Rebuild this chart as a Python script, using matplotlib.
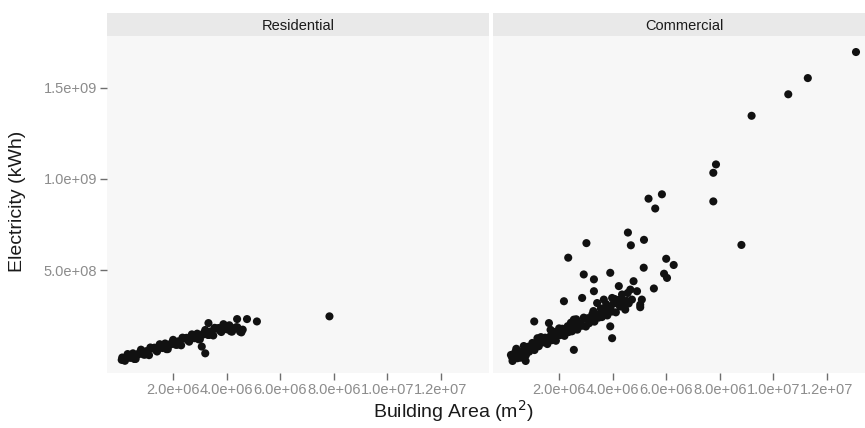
import numpy as np
import matplotlib
matplotlib.use('Agg')
import matplotlib.pyplot as plt
from matplotlib.ticker import FuncFormatter

plt.rcParams['font.family'] = ['Liberation Sans', 'DejaVu Sans']

# 面积单位: 1e6 m^2, 电量单位: 1e8 kWh
res_area = [0.1, 0.2, 0.3, 0.4, 0.5, 0.6, 0.7, 0.8, 0.9, 1.0,
            1.1, 1.2, 1.3, 1.4, 1.5, 1.6, 1.7, 1.8, 1.9, 2.0,
            2.1, 2.2, 2.3, 2.4, 2.5, 2.6, 2.7, 2.8, 2.9, 3.0,
            3.1, 3.2, 3.3, 3.4, 3.5, 3.6, 3.7, 3.8, 3.9, 4.0,
            4.1, 4.2, 4.3, 4.4, 4.5, 4.6,
            0.15, 0.35, 0.55, 0.75, 0.95, 1.15, 1.35, 1.55, 1.75, 1.95,
            2.15, 2.35, 2.55, 2.75, 2.95, 3.15, 3.35, 3.55, 3.75, 3.95,
            4.15, 4.35, 4.55,
            4.39, 4.76, 5.13, 3.32, 3.20, 3.07, 7.84, 0.08, 3.88]
res_elec = [0.20, 0.02, 0.39, 0.18, 0.43, 0.12, 0.37, 0.63, 0.36, 0.55,
            0.33, 0.71, 0.74, 0.53, 0.93, 0.72, 0.97, 0.66, 0.91, 1.17,
            0.90, 1.09, 0.87, 1.25, 1.28, 1.07, 1.47, 1.26, 1.51, 1.20,
            1.45, 1.71, 1.44, 1.63, 1.41, 1.79, 1.82, 1.60, 1.98, 1.75,
            1.97, 1.62, 1.80, 1.86, 1.62, 1.73,
            0.07, 0.33, 0.12, 0.47, 0.36, 0.75, 0.61, 0.87, 0.66, 1.01,
            0.90, 1.29, 1.15, 1.41, 1.20, 1.55, 1.44, 1.83, 1.68, 1.91,
            1.64, 1.86, 1.58,
            2.31, 2.31, 2.18, 2.09, 0.43, 0.80, 2.46, 0.07, 2.03]

com_area = [0.20, 0.28, 0.36, 0.44, 0.52, 0.60, 0.68, 0.76, 0.84, 0.92,
            1.00, 1.08, 1.16, 1.24, 1.32, 1.40, 1.48, 1.56, 1.64, 1.72,
            1.80, 1.88, 1.96, 2.04, 2.12, 2.20, 2.28, 2.36, 2.44, 2.52,
            2.60, 2.68, 2.76, 2.84, 2.92, 3.00, 3.08, 3.16, 3.24, 3.32,
            3.40, 3.48, 3.56, 3.64, 3.72, 3.80, 3.88, 3.96, 4.04, 4.12,
            4.20, 4.28, 4.36, 4.44, 4.52, 4.60,
            0.24, 0.40, 0.56, 0.72, 0.88, 1.04, 1.20, 1.36, 1.52, 1.68,
            1.84, 2.00, 2.16, 2.32, 2.48, 2.64, 2.80, 2.96, 3.12, 3.28,
            3.44, 3.60, 3.76, 3.92, 4.08, 4.24, 4.40, 4.56,
            1.07, 1.19, 1.62, 1.68, 2.18, 2.55, 2.55, 2.86, 2.92, 3.30,
            3.30, 3.42, 3.67, 3.91, 3.91, 3.98, 3.98, 4.23, 4.35, 4.66,
            4.72, 4.78, 4.91, 5.03, 5.09, 5.16, 4.47, 5.03, 5.54, 0.26,
            0.75,
            13.09, 11.29, 10.56, 9.19, 7.86, 7.76, 7.76, 5.84, 5.34, 5.59,
            8.81, 4.57, 4.68, 5.17, 3.02, 2.34, 6.00, 6.28, 5.92, 6.03]
com_elec = [0.34, 0.10, 0.50, 0.16, 0.51, 0.37, 0.83, 0.33, 0.79, 0.64,
            1.00, 0.61, 0.96, 0.82, 1.32, 1.03, 1.29, 0.94, 1.30, 1.15,
            1.61, 1.12, 1.57, 1.43, 1.78, 1.39, 1.75, 1.60, 2.11, 1.81,
            2.07, 1.73, 2.08, 1.94, 2.39, 1.90, 2.36, 2.21, 2.57, 2.17,
            2.53, 2.39, 2.89, 2.60, 2.85, 2.51, 2.87, 2.72, 3.18, 2.68,
            3.14, 3.00, 3.35, 2.96, 3.31, 3.17,
            0.22, 0.68, 0.19, 0.60, 0.52, 0.93, 0.89, 1.25, 1.06, 1.38,
            1.34, 1.80, 1.56, 1.92, 1.64, 2.30, 2.06, 2.32, 2.08, 2.75,
            2.56, 2.42, 3.13, 2.94, 3.41, 3.37, 3.13, 3.74,
            2.18, 1.26, 2.09, 1.72, 3.29, 0.62, 2.28, 3.47, 4.76, 4.49,
            3.84, 3.19, 3.38, 4.85, 1.91, 1.26, 3.47, 4.12, 3.66, 3.93,
            3.38, 4.39, 3.84, 3.10, 3.38, 5.13, 2.83, 2.96, 3.99, 0.01,
            0.01,
            16.97, 15.54, 14.65, 13.47, 10.80, 10.34, 8.77, 9.16, 8.92, 8.38,
            6.38, 7.06, 6.36, 6.66, 6.48, 5.68, 5.62, 5.28, 4.80, 4.57]

panels = ['Residential', 'Commercial']
x_ticks = [2e6, 4e6, 6e6, 8e6, 1e7, 1.2e7]
y_ticks = [5e8, 1e9, 1.5e9]

W, H = 865, 428
fig = plt.figure(figsize=(W / 100, H / 100), dpi=100)
fig.patch.set_facecolor('white')

tick_grey = '#8c8c8c'
fmt = FuncFormatter(lambda v, p: '%.1e' % v)

panel_left = [107, 493]
panel_w = 382
top, bottom = 36, 373
data = [(res_area, res_elec), (com_area, com_elec)]

for i, name in enumerate(panels):
    l = panel_left[i]
    ax = fig.add_axes([l / W, 1 - bottom / H, panel_w / W, (bottom - top) / H])
    ax.set_facecolor('#f7f7f7')
    x = np.array(data[i][0]) * 1e6
    y = np.array(data[i][1]) * 1e8
    ax.scatter(x, y, s=34, color='#111111', edgecolors='none', zorder=3)
    ax.set_xlim(-0.47e6, 13.8e6)
    ax.set_ylim(-0.065e9, 1.785e9)
    ax.set_xticks(x_ticks)
    ax.set_yticks(y_ticks)
    ax.xaxis.set_major_formatter(fmt)
    ax.yaxis.set_major_formatter(fmt)
    for s in ax.spines.values():
        s.set_visible(False)
    ax.tick_params(colors='#6e6e6e', labelcolor=tick_grey, labelsize=10.5,
                   length=5, width=1.0, pad=2)
    if i > 0:
        ax.tick_params(axis='y', left=False, labelleft=False)

    # 分面标题条
    sax = fig.add_axes([l / W, 1 - top / H, panel_w / W, 23 / H])
    sax.set_facecolor('#e9e9e9')
    sax.set_xticks([])
    sax.set_yticks([])
    for s in sax.spines.values():
        s.set_visible(False)
    sax.text(0.5, 0.45, name, ha='center', va='center', fontsize=10.5, color='#1a1a1a',
             transform=sax.transAxes)

fig.text(453 / W, 1 - 411 / H, 'Building Area (m$^2$)', ha='center', va='center',
         fontsize=14, color='#1a1a1a')
fig.text(18 / W, 1 - 201 / H, 'Electricity (kWh)', ha='center', va='center',
         rotation=90, fontsize=14, color='#1a1a1a')

fig.savefig('out.png', dpi=100, facecolor='white')
